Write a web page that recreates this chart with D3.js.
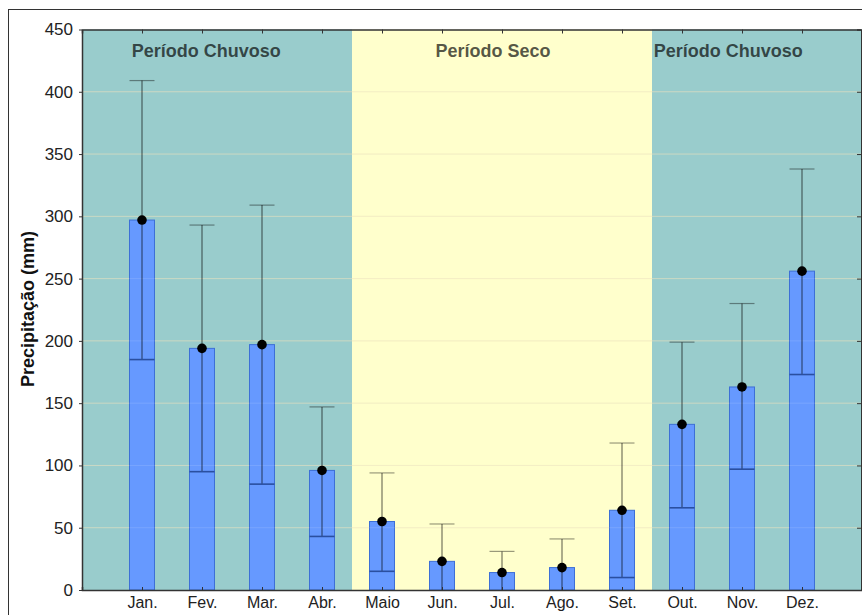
<!DOCTYPE html>
<meta charset="utf-8">
<script src="https://d3js.org/d3.v7.min.js"></script>
<style>
  body { margin: 0; background: #fff; }
  svg { font-family: "Liberation Sans", Arial, sans-serif; display: block; }
  .tick text { font-size: 17px; fill: #222; }
  .domain { stroke: #333; }
  .tick line { stroke: #333; }
</style>
<div id="chart"></div>
<script>

// monthly precipitation (mm)
const months = ["Jan.", "Fev.", "Mar.", "Abr.", "Maio", "Jun.", "Jul.", "Ago.", "Set.", "Out.", "Nov.", "Dez."];
const media = [297, 194, 197, 96, 55, 23, 14, 18, 64, 133, 163, 256];
const superior = [409, 293, 309, 147, 94, 53, 31, 41, 118, 199, 230, 338];
const inferior = [185, 95, 85, 43, 15, 0, 0, 0, 10, 66, 97, 173];

// periods, in month units (month i sits at i+1)
const periodNames = ["Período Chuvoso", "Período Seco", "Período Chuvoso"];
const periodStart = [0, 4.5, 9.5];
const periodEnd = [4.5, 9.5, 13];
const periodLabelAt = [2.07, 6.85, 10.77];
const periodColor = ["#99cccc", "#ffffcc", "#99cccc"];

const yTicks = [0, 50, 100, 150, 200, 250, 300, 350, 400, 450];

const W = 862, H = 615;
const mLeft = 82, mRight = 862, mTop = 29.5, mBottom = 590;

const svg = d3.select("#chart").append("svg")
  .attr("width", W).attr("height", H);

// outer frame
svg.append("rect")
  .attr("x", 8.5).attr("y", 9.5)
  .attr("width", 900).attr("height", 700)
  .attr("fill", "none").attr("stroke", "#333").attr("stroke-width", 1);

const x = d3.scaleLinear().domain([0, 13]).range([mLeft, mRight]);
const y = d3.scaleLinear().domain([0, 450]).range([mBottom, mTop]);

// period backgrounds
svg.selectAll(".period")
  .data(periodNames)
  .join("rect")
    .attr("x", (d, i) => x(periodStart[i]))
    .attr("y", y(450))
    .attr("width", (d, i) => x(periodEnd[i]) - x(periodStart[i]))
    .attr("height", y(0) - y(450))
    .attr("fill", (d, i) => periodColor[i]);

// grid
svg.append("g")
  .selectAll("line")
  .data(yTicks.slice(1, -1))
  .join("line")
    .attr("x1", mLeft).attr("x2", mRight)
    .attr("y1", d => y(d)).attr("y2", d => y(d))
    .attr("stroke", "#e8dcb0").attr("stroke-opacity", 0.55).attr("stroke-width", 1);

// bars
const bw = 25;
svg.append("g")
  .selectAll("rect")
  .data(months)
  .join("rect")
    .attr("x", (d, i) => x(i + 1) - bw / 2)
    .attr("y", (d, i) => y(media[i]))
    .attr("width", bw)
    .attr("height", (d, i) => y(0) - y(media[i]))
    .attr("fill", "#6699ff")
    .attr("stroke", "#3d6fd6")
    .attr("stroke-width", 1);

// faint grid over the bars
svg.append("g")
  .selectAll("line")
  .data(yTicks.slice(1, -1))
  .join("line")
    .attr("x1", mLeft).attr("x2", mRight)
    .attr("y1", d => y(d)).attr("y2", d => y(d))
    .attr("stroke", "#ffffff").attr("stroke-opacity", 0.12);

// whiskers
const wh = svg.append("g");
wh.selectAll(".vert")
  .data(months)
  .join("line")
    .attr("x1", (d, i) => x(i + 1)).attr("x2", (d, i) => x(i + 1))
    .attr("y1", (d, i) => y(superior[i])).attr("y2", (d, i) => y(inferior[i]))
    .attr("stroke", "#000").attr("stroke-opacity", 0.5).attr("stroke-width", 1.3);
wh.selectAll(".cap")
  .data(months)
  .join("line")
    .attr("x1", (d, i) => x(i + 1) - bw / 2).attr("x2", (d, i) => x(i + 1) + bw / 2)
    .attr("y1", (d, i) => y(superior[i])).attr("y2", (d, i) => y(superior[i]))
    .attr("stroke", "#000").attr("stroke-opacity", 0.4).attr("stroke-width", 1.2);
wh.selectAll(".low")
  .data(months.filter((d, i) => inferior[i] > 0))
  .join("line")
    .attr("x1", d => x(months.indexOf(d) + 1) - bw / 2)
    .attr("x2", d => x(months.indexOf(d) + 1) + bw / 2)
    .attr("y1", d => y(inferior[months.indexOf(d)]))
    .attr("y2", d => y(inferior[months.indexOf(d)]))
    .attr("stroke", "#2a4fa0").attr("stroke-width", 1.6);

// dots
svg.append("g")
  .selectAll("circle")
  .data(months)
  .join("circle")
    .attr("cx", (d, i) => x(i + 1))
    .attr("cy", (d, i) => y(media[i]))
    .attr("r", 4.8)
    .attr("fill", "#000");

// period labels
svg.append("g")
  .selectAll("text")
  .data(periodNames)
  .join("text")
    .attr("x", (d, i) => x(periodLabelAt[i]))
    .attr("y", 57)
    .attr("text-anchor", "middle")
    .attr("font-size", 18)
    .attr("font-weight", "bold")
    .attr("fill", "#000").attr("fill-opacity", 0.68)
    .text(d => d);

// axes
const monthTicks = d3.range(1, 13);
svg.append("g")
  .attr("transform", `translate(0,${mBottom})`)
  .call(d3.axisBottom(x).tickValues(monthTicks).tickSize(-3).tickPadding(7)
    .tickFormat(d => months[d - 1]))
  .call(g => g.select(".domain").attr("stroke-width", 1.5))
  .call(g => g.selectAll(".tick text").style("font-size", "16px"));

svg.append("g")
  .attr("transform", `translate(0,${mTop})`)
  .call(d3.axisTop(x).tickValues(monthTicks).tickSize(-4).tickFormat(""))
  .call(g => g.select(".domain").attr("stroke-width", 1.5));

svg.append("g")
  .attr("transform", `translate(${mLeft},0)`)
  .call(d3.axisLeft(y).tickValues(yTicks).tickSize(3).tickPadding(6).tickSizeOuter(0))
  .call(g => g.select(".domain").attr("stroke-width", 1.5));

svg.append("g")
  .attr("transform", `translate(${mRight - 1},0)`)
  .call(d3.axisRight(y).tickValues(yTicks).tickSize(-4).tickFormat(""));

// y title
svg.append("text")
  .attr("transform", "translate(34,309) rotate(-90)")
  .attr("text-anchor", "middle")
  .attr("font-size", 18)
  .attr("font-weight", "bold")
  .attr("fill", "#111")
  .text("Precipitação (mm)");

</script>
